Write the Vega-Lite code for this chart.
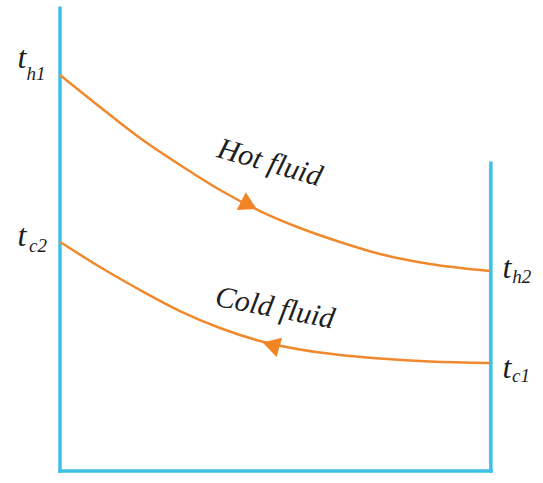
{
  "$schema": "https://vega.github.io/schema/vega-lite/v6.json",
  "width": 543,
  "height": 483,
  "autosize": {"type": "fit", "contains": "padding"},
  "padding": 0,
  "background": "white",
  "config": {"view": {"stroke": null}},
  "datasets": {
    "walls": [
      {"wall": "left", "x": 0, "y": 0, "x2": 0, "y2": 100.6},
      {"wall": "bottom", "x": 0, "y": 0, "x2": 100.2, "y2": 0},
      {"wall": "right", "x": 100.2, "y": 0, "x2": 100.2, "y2": 66.9}
    ],
    "curves": [
      {"fluid": "Hot", "x": 0, "y": 86.09},
      {"fluid": "Hot", "x": 9.30, "y": 79.13},
      {"fluid": "Hot", "x": 18.60, "y": 72.39},
      {"fluid": "Hot", "x": 27.91, "y": 66.52},
      {"fluid": "Hot", "x": 37.21, "y": 61.09},
      {"fluid": "Hot", "x": 46.51, "y": 56.52},
      {"fluid": "Hot", "x": 55.81, "y": 52.83},
      {"fluid": "Hot", "x": 65.12, "y": 49.78},
      {"fluid": "Hot", "x": 74.42, "y": 47.17},
      {"fluid": "Hot", "x": 86.05, "y": 45.0},
      {"fluid": "Hot", "x": 100, "y": 43.48},
      {"fluid": "Cold", "x": 0, "y": 49.78},
      {"fluid": "Cold", "x": 9.30, "y": 44.35},
      {"fluid": "Cold", "x": 18.60, "y": 39.35},
      {"fluid": "Cold", "x": 27.91, "y": 34.78},
      {"fluid": "Cold", "x": 37.21, "y": 31.09},
      {"fluid": "Cold", "x": 46.51, "y": 28.26},
      {"fluid": "Cold", "x": 55.81, "y": 26.41},
      {"fluid": "Cold", "x": 65.12, "y": 25.22},
      {"fluid": "Cold", "x": 74.42, "y": 24.46},
      {"fluid": "Cold", "x": 86.05, "y": 23.80},
      {"fluid": "Cold", "x": 100, "y": 23.48}
    ],
    "arrows": [
      {"fluid": "Hot", "x": 43.95, "y": 57.8, "dir": 27},
      {"fluid": "Cold", "x": 49.07, "y": 27.4, "dir": 196}
    ],
    "fluidLabels": [
      {"label": "Hot fluid", "x": 48.8, "y": 67.0},
      {"label": "Cold fluid", "x": 50.0, "y": 35.4}
    ],
    "tLabels": [
      {"name": "th1", "x": -8.84, "y": 89.8},
      {"name": "tc2", "x": -8.84, "y": 51.1},
      {"name": "th2", "x": 103.95, "y": 44.1},
      {"name": "tc1", "x": 103.95, "y": 22.4}
    ],
    "subLabels": [
      {"name": "th1", "sub": "h1", "x": -5.58, "y": 86.3},
      {"name": "tc2", "sub": "c2", "x": -5.12, "y": 48.9},
      {"name": "th2", "sub": "h2", "x": 107.4, "y": 42.2},
      {"name": "tc1", "sub": "c1", "x": 107.2, "y": 20.7}
    ]
  },
  "layer": [
    {
      "data": {"name": "walls"},
      "mark": {"type": "rule", "color": "#3ec0e6", "strokeWidth": 3.5, "strokeCap": "square"},
      "encoding": {
        "x": {"field": "x", "type": "quantitative", "scale": {"domain": [-13.953, 112.326], "nice": false, "zero": false}, "axis": null},
        "y": {"field": "y", "type": "quantitative", "scale": {"domain": [-2.609, 102.391], "nice": false, "zero": false}, "axis": null},
        "x2": {"field": "x2"},
        "y2": {"field": "y2"}
      }
    },
    {
      "data": {"name": "curves"},
      "mark": {"type": "line", "color": "#f0892e", "strokeWidth": 2.5, "interpolate": "monotone"},
      "encoding": {
        "x": {"field": "x", "type": "quantitative"},
        "y": {"field": "y", "type": "quantitative"},
        "detail": {"field": "fluid"}
      }
    },
    {
      "data": {"name": "arrows"},
      "mark": {"type": "point", "shape": "triangle-right", "filled": true, "color": "#f28424", "opacity": 1, "size": 400},
      "encoding": {
        "x": {"field": "x", "type": "quantitative"},
        "y": {"field": "y", "type": "quantitative"},
        "angle": {"field": "dir", "type": "quantitative", "scale": null}
      }
    },
    {
      "data": {"name": "fluidLabels"},
      "transform": [{"filter": "datum.label == 'Hot fluid'"}],
      "mark": {"type": "text", "font": "Liberation Serif", "fontStyle": "italic", "fontSize": 30, "angle": 16, "color": "#1e1e1e", "align": "center", "baseline": "middle"},
      "encoding": {
        "x": {"field": "x", "type": "quantitative"},
        "y": {"field": "y", "type": "quantitative"},
        "text": {"field": "label"}
      }
    },
    {
      "data": {"name": "fluidLabels"},
      "transform": [{"filter": "datum.label == 'Cold fluid'"}],
      "mark": {"type": "text", "font": "Liberation Serif", "fontStyle": "italic", "fontSize": 30, "angle": 11, "color": "#1e1e1e", "align": "center", "baseline": "middle"},
      "encoding": {
        "x": {"field": "x", "type": "quantitative"},
        "y": {"field": "y", "type": "quantitative"},
        "text": {"field": "label"}
      }
    },
    {
      "data": {"name": "tLabels"},
      "mark": {"type": "text", "font": "Liberation Serif", "fontStyle": "italic", "fontSize": 32, "color": "#1e1e1e", "align": "center", "baseline": "middle"},
      "encoding": {
        "x": {"field": "x", "type": "quantitative"},
        "y": {"field": "y", "type": "quantitative"},
        "text": {"value": "t"}
      }
    },
    {
      "data": {"name": "subLabels"},
      "mark": {"type": "text", "font": "Liberation Serif", "fontStyle": "italic", "fontSize": 19, "color": "#1e1e1e", "align": "center", "baseline": "middle"},
      "encoding": {
        "x": {"field": "x", "type": "quantitative"},
        "y": {"field": "y", "type": "quantitative"},
        "text": {"field": "sub"}
      }
    }
  ]
}
